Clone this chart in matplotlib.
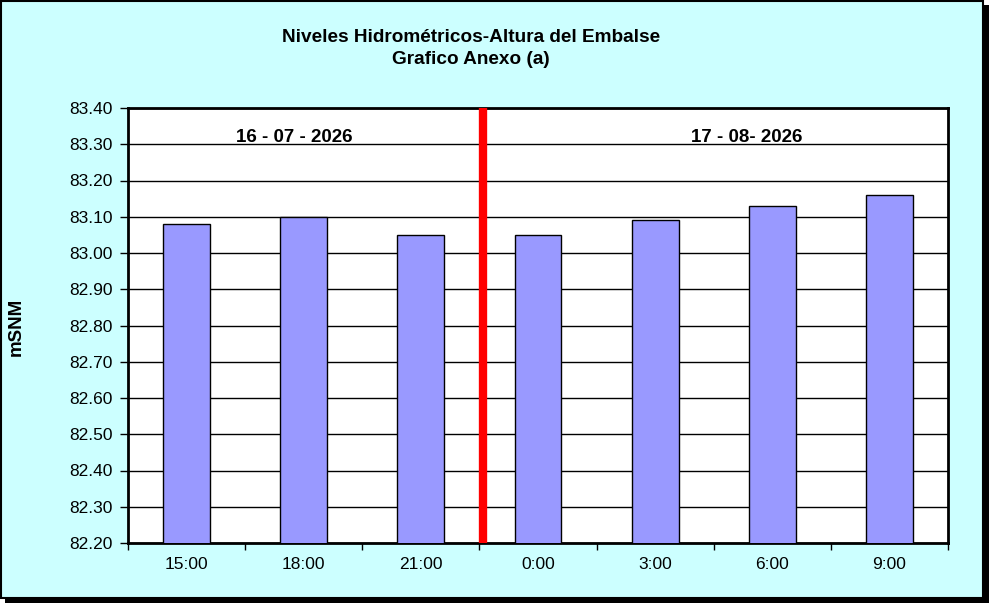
import matplotlib.pyplot as plt
from matplotlib.patches import Rectangle

plt.rcParams['font.family'] = ['Liberation Sans', 'DejaVu Sans']

horas = ['15:00', '18:00', '21:00', '0:00', '3:00', '6:00', '9:00']
niveles = [83.08, 83.10, 83.05, 83.05, 83.09, 83.13, 83.16]
yticks = [82.2 + 0.1 * i for i in range(13)]

fig = plt.figure(figsize=(9.89, 6.03), dpi=100)
fig.patch.set_facecolor('white')

# marco con sombra
fig.patches.append(Rectangle((5 / 989, 0), 984 / 989, 598 / 603, transform=fig.transFigure,
                             facecolor='black', edgecolor='none', zorder=0))
fig.patches.append(Rectangle((1 / 989, 5 / 603), 982 / 989, 597 / 603, transform=fig.transFigure,
                             facecolor='#CCFFFF', edgecolor='black', linewidth=1.5, zorder=1))

ax = fig.add_axes([128 / 989, 1 - 543 / 603, 820 / 989, 435 / 603])
ax.set_facecolor('white')
ax.set_zorder(2)

x = range(len(horas))
ax.bar(x, niveles, width=0.4, bottom=0, color='#9999FF', edgecolor='black', linewidth=1, zorder=3)
ax.set_ylim(82.2, 83.4)
ax.set_xlim(-0.5, len(horas) - 0.5)

ax.set_yticks(yticks)
ax.set_yticklabels([f'{v:.2f}' for v in yticks], fontsize=12.5)
ax.set_xticks(list(x))
ax.set_xticklabels(horas, fontsize=12.5)
ax.set_xticks([i + 0.5 for i in range(-1, len(horas))], minor=True)
ax.tick_params(axis='x', which='major', length=0, pad=10)
ax.tick_params(axis='x', which='minor', length=5, direction='out', width=1)
ax.tick_params(axis='y', length=6, direction='out', width=1, pad=5)
ax.yaxis.grid(True, color='black', linewidth=1, zorder=1)
ax.set_axisbelow(True)
for s in ax.spines.values():
    s.set_linewidth(2)

# separador de dias
ax.plot([2.53, 2.53], [82.2, 83.4], color='red', linewidth=6, zorder=4, clip_on=False,
        solid_capstyle='butt')

ax.text(0.92, 83.32, '16 - 07 - 2026', fontsize=13.5, fontweight='bold', ha='center', va='center', zorder=5)
ax.text(4.78, 83.32, '17 - 08- 2026', fontsize=13.5, fontweight='bold', ha='center', va='center', zorder=5)

fig.text(471 / 989, 1 - 38 / 603, 'Niveles Hidrométricos-Altura del Embalse', fontsize=13.7,
         fontweight='bold', ha='center', va='center', zorder=3)
fig.text(471 / 989, 1 - 60 / 603, 'Grafico Anexo (a)', fontsize=13.7,
         fontweight='bold', ha='center', va='center', zorder=3)
fig.text(16 / 989, 1 - 327 / 603, 'mSNM', fontsize=13.5, fontweight='bold', rotation=90,
         ha='center', va='center', zorder=3)

fig.savefig('out.png', dpi=100)
